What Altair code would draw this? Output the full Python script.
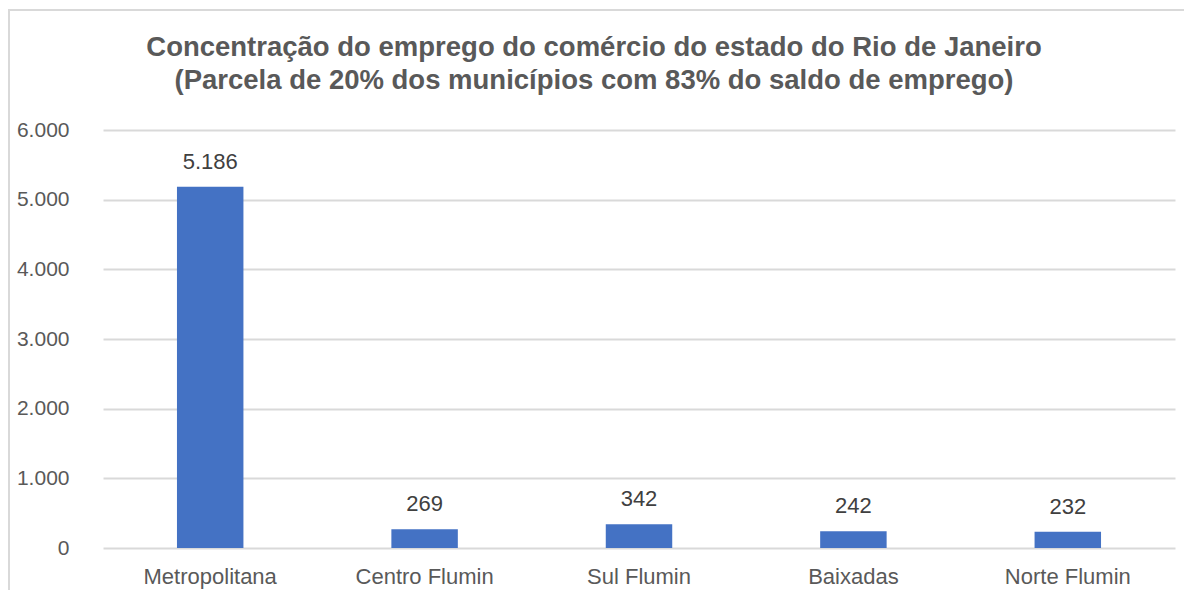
import altair as alt
import pandas as pd

categories = ["Metropolitana", "Centro Flumin", "Sul Flumin", "Baixadas", "Norte Flumin"]
values = [5186, 269, 342, 242, 232]
title_lines = [
    "Concentração do emprego do comércio do estado do Rio de Janeiro",
    "(Parcela de 20% dos municípios com 83% do saldo de emprego)",
]

df = pd.DataFrame({"regiao": categories, "valor": values})

TXT = "#595959"
FONT = "Liberation Sans"

base = alt.Chart(df)

x_enc = alt.X(
    "regiao:N",
    sort=categories,
    title=None,
    scale=alt.Scale(paddingInner=0.69, paddingOuter=0.345),
    axis=alt.Axis(
        labelAngle=0,
        labelFontSize=22,
        labelColor=TXT,
        labelFont=FONT,
        ticks=False,
        domain=False,
        labelPadding=18,
    ),
)

bars = base.mark_bar(color="#4472C4").encode(
    x=x_enc,
    y=alt.Y(
        "valor:Q",
        title=None,
        scale=alt.Scale(domain=[0, 6000]),
        axis=alt.Axis(
            values=[0, 1000, 2000, 3000, 4000, 5000, 6000],
            labelExpr="replace(format(datum.value, ','), ',', '.')",
            labelFontSize=21,
            labelColor=TXT,
            labelFont=FONT,
            ticks=False,
            domain=False,
            labelPadding=34,
            grid=True,
            gridColor="#d9d9d9",
            gridWidth=2,
        ),
    ),
)

labels = base.transform_calculate(
    rotulo="replace(format(datum.valor, ','), ',', '.')"
).mark_text(
    dy=-25, fontSize=22, color="#404040", font=FONT
).encode(
    x=alt.X("regiao:N", sort=categories),
    y="valor:Q",
    text="rotulo:N",
)

border = alt.Chart(pd.DataFrame({"b": [0]})).mark_rect(
    fill=None, stroke="#d9d9d9", strokeWidth=2
).encode(
    x=alt.value(-94), x2=alt.value(1300), y=alt.value(-120), y2=alt.value(800)
)

chart = alt.layer(border, bars, labels).properties(
    width=1072,
    height=418,
    autosize=alt.AutoSizeParams(type="none"),
    padding={"left": 95, "top": 122, "right": 9, "bottom": 42},
    title=alt.Title(
        text=title_lines,
        fontSize=27.5,
        font=FONT,
        fontWeight="bold",
        color=TXT,
        anchor="middle",
        offset=0,
        dy=85,
        dx=-45,
        lineHeight=33,
    ),
).configure_view(stroke=None)

chart.save("out.html", embed_options={"renderer": "svg", "actions": False})
